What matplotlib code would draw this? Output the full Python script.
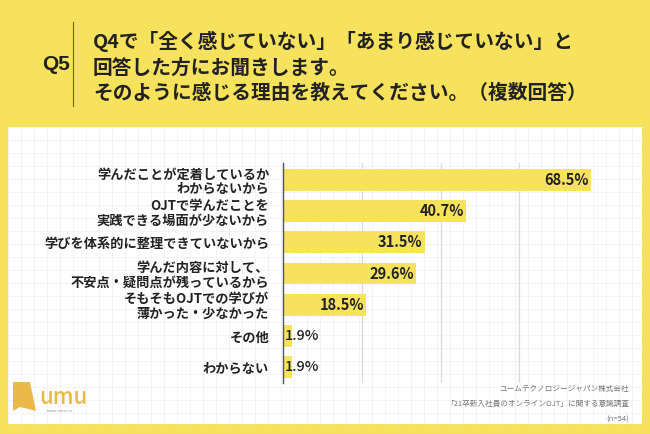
import matplotlib
matplotlib.use("Agg")
import matplotlib.pyplot as plt
from matplotlib.patches import Rectangle, Polygon
from matplotlib.lines import Line2D

plt.rcParams['font.family'] = ['Noto Sans CJK JP', 'DejaVu Sans']

categories = [
    "学んだことが定着しているか\nわからないから",
    "OJTで学んだことを\n実践できる場面が少ないから",
    "学びを体系的に整理できていないから",
    "学んだ内容に対して、\n不安点・疑問点が残っているから",
    "そもそもOJTでの学びが\n薄かった・少なかった",
    "その他",
    "わからない",
]
values = [68.5, 40.7, 31.5, 29.6, 18.5, 1.9, 1.9]
value_labels = ["68.5%", "40.7%", "31.5%", "29.6%", "18.5%", "1.9%", "1.9%"]
x_ticks = [0, 17.5, 35, 52.5, 70]

title_q = "Q5"
title_lines = "Q4で「全く感じていない」「あまり感じていない」と\n回答した方にお聞きします。\nそのように感じる理由を教えてください。（複数回答）"
footer = "ユームテクノロジージャパン株式会社\n「21卒新入社員のオンラインOJT」に関する意識調査\n(n=54)"

W, H = 650, 434
YELLOW = "#F6E25C"
fig = plt.figure(figsize=(W / 100, H / 100), dpi=100)
fig.patch.set_facecolor(YELLOW)

def fx(px):
    return px / W

def fy(py):
    return 1 - py / H

# white panel
panel_l, panel_r, panel_t, panel_b = 8, 642, 127, 424
fig.patches.append(Rectangle((fx(panel_l), fy(panel_b)), fx(panel_r - panel_l), (panel_b - panel_t) / H,
                             transform=fig.transFigure, facecolor="white", edgecolor="none", zorder=0))
# faint background grid on panel
step = 13
x = panel_l
while x <= panel_r:
    fig.lines.append(Line2D([fx(x), fx(x)], [fy(panel_t), fy(panel_b)], transform=fig.transFigure,
                            color="#f1f1f1", lw=0.6, zorder=0.5))
    x += step
y = panel_t
while y <= panel_b:
    fig.lines.append(Line2D([fx(panel_l), fx(panel_r)], [fy(y), fy(y)], transform=fig.transFigure,
                            color="#f1f1f1", lw=0.6, zorder=0.5))
    y += step

# title area
fig.text(fx(56), fy(65), title_q, fontsize=15, fontweight="bold", ha="center", va="center", color="#222222",
         family=["Liberation Sans", "DejaVu Sans"])
fig.lines.append(Line2D([fx(73), fx(73)], [fy(22), fy(106)], transform=fig.transFigure, color="#6b6030", lw=0.8))
fig.text(fx(93), fy(67), title_lines, fontsize=14.2, fontweight="bold", ha="left", va="center",
         color="#222222", linespacing=1.42)

# axes
ax_l, ax_r, ax_t, ax_b = 283, 598, 163, 383
ax = fig.add_axes([fx(ax_l), fy(ax_b), fx(ax_r - ax_l), (ax_b - ax_t) / H])
ax.set_zorder(3)
ax.set_facecolor("none")
ypos = list(range(len(categories)))
ax.barh(ypos, values, height=0.7, color=YELLOW, zorder=2)
ax.set_xlim(0, 70)
ax.set_ylim(6.51, -0.545)
ax.set_xticks(x_ticks)
ax.set_xticklabels([])
ax.tick_params(length=0)
ax.grid(axis="x", color="#d9d9d9", lw=0.9, zorder=1)
ax.set_yticks(ypos)
ax.set_yticklabels(categories, fontsize=9.5, fontweight="bold", color="#222222", linespacing=1.05)
ax.tick_params(axis="y", pad=10)
for s in ["top", "right", "bottom"]:
    ax.spines[s].set_visible(False)
ax.spines["left"].set_color("#555555")
ax.spines["left"].set_linewidth(1.0)
ax.spines["left"].set_zorder(3)

for yi, v, lab in zip(ypos, values, value_labels):
    if v > 10:
        ax.text(v - 0.5, yi, lab, ha="right", va="center", fontsize=10.5, fontweight="bold",
                color="#222222", zorder=4)
    else:
        ax.text(0.4, yi, lab, ha="left", va="center", fontsize=10.5, fontweight="medium",
                color="#222222", zorder=4)

# footer
fig.text(fx(629), fy(385), footer, fontsize=5.5, ha="right", va="top", color="#777777",
         linespacing=2.2, multialignment="right")

# logo
LOGO = "#E9B949"
fig.patches.append(Polygon([(fx(13), fy(382)), (fx(30), fy(382)), (fx(36), fy(411)), (fx(20), fy(407)), (fx(13), fy(411))],
                           closed=True, transform=fig.transFigure, facecolor=LOGO, edgecolor="none"))
fig.text(fx(39), fy(398), "umu", fontsize=16, color=LOGO, ha="left", va="center", fontweight="medium")
fig.text(fx(47), fy(411), "www.umu.co", fontsize=3, color="#999999", ha="left", va="center")

fig.savefig("out.png", dpi=100, facecolor=fig.get_facecolor())
